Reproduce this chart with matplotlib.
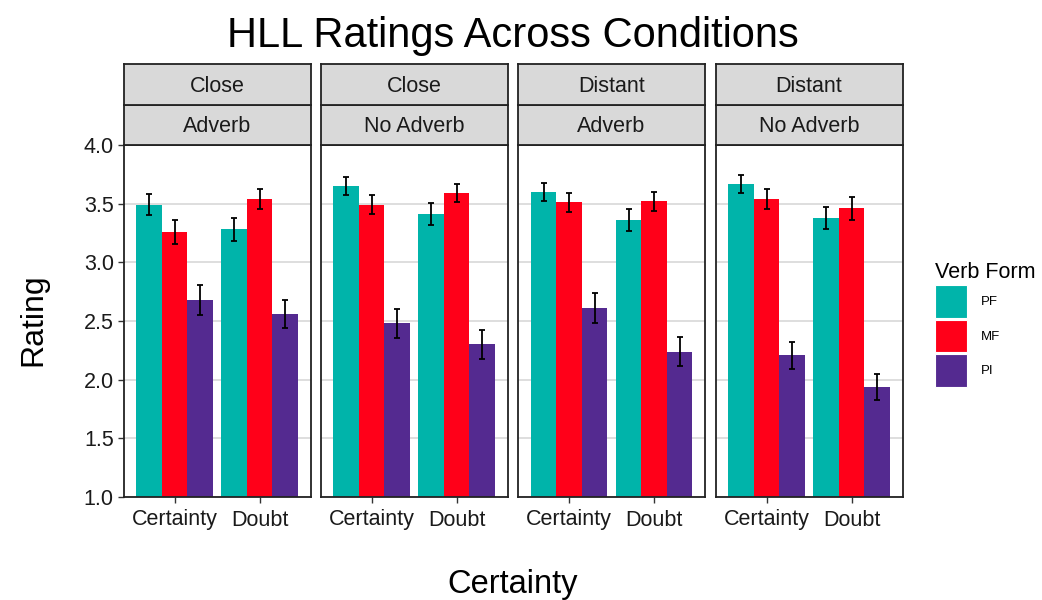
import matplotlib
matplotlib.use("Agg")
import matplotlib.pyplot as plt
import numpy as np
from matplotlib.patches import Patch

plt.rcParams["font.family"] = ["Liberation Sans", "DejaVu Sans"]

# facets (distance, adverb)
distance = ["Close", "Close", "Distant", "Distant"]
adverb = ["Adverb", "No Adverb", "Adverb", "No Adverb"]
certainty = ["Certainty", "Doubt"]
verb_forms = ["PF", "MF", "PI"]
colors = ["#00B4AA", "#FF0019", "#542A90"]

# mean rating per facet: [certainty, doubt]
pf = [[3.49, 3.28], [3.65, 3.41], [3.60, 3.36], [3.67, 3.38]]
mf = [[3.26, 3.54], [3.49, 3.59], [3.51, 3.52], [3.54, 3.46]]
pi = [[2.68, 2.56], [2.48, 2.30], [2.61, 2.24], [2.21, 1.94]]
# error bar half widths
pf_err = [[0.09, 0.10], [0.075, 0.095], [0.08, 0.095], [0.075, 0.095]]
mf_err = [[0.10, 0.085], [0.08, 0.075], [0.085, 0.08], [0.085, 0.095]]
pi_err = [[0.13, 0.12], [0.125, 0.12], [0.13, 0.125], [0.115, 0.11]]

means = [pf, mf, pi]
errs = [pf_err, mf_err, pi_err]

W, H = 1042, 600
fig = plt.figure(figsize=(W / 100, H / 100), dpi=100)


def px_axes(x0, y0, x1, y1, **kw):
    # pixel box (top-left origin) -> figure axes
    return fig.add_axes([x0 / W, 1 - y1 / H, (x1 - x0) / W, (y1 - y0) / H], **kw)


panel_left = [123.5, 320.5, 518, 715.5]
panel_w = 187
top, bottom = 145, 497
strip_h = 40.5

x = np.arange(1, len(certainty) + 1)
bw = 0.3

for k in range(4):
    x0 = panel_left[k]
    ax = px_axes(x0, top, x0 + panel_w, bottom)
    for j, vf in enumerate(verb_forms):
        vals = [means[j][k][c] for c in range(2)]
        ev = [errs[j][k][c] for c in range(2)]
        pos = x + (j - 1) * bw
        ax.bar(pos, np.array(vals) - 1, bw, bottom=1, color=colors[j], zorder=2)
        ax.errorbar(pos, vals, yerr=ev, fmt="none", ecolor="black",
                    elinewidth=1.3, capsize=2.4, capthick=1.3, zorder=3)
    ax.set_xlim(0.4, 2.6)
    ax.set_ylim(1, 4)
    ax.set_yticks(np.arange(1, 4.01, 0.5))
    ax.set_xticks(x)
    ax.set_xticklabels(certainty)
    ax.yaxis.grid(True, color="#d4d4d4", linewidth=1.1, zorder=0)
    ax.set_axisbelow(True)
    ax.tick_params(axis="both", labelsize=15.5, length=4, width=1,
                   color="#333333", labelcolor="#1a1a1a", pad=3)
    ax.tick_params(axis="x", pad=5)
    if k == 0:
        ax.set_yticklabels([f"{v:.1f}" for v in np.arange(1, 4.01, 0.5)])
    else:
        ax.tick_params(axis="y", left=False, labelleft=False)
    for s in ax.spines.values():
        s.set_linewidth(1.3)
        s.set_color("#222222")

    # two strip rows
    for r, lab in enumerate([adverb[k], distance[k]]):
        y1 = top - r * strip_h
        sax = px_axes(x0, y1 - strip_h, x0 + panel_w, y1)
        sax.set_facecolor("#d9d9d9")
        sax.set_xticks([])
        sax.set_yticks([])
        for s in sax.spines.values():
            s.set_linewidth(1.3)
            s.set_color("#222222")
        sax.text(0.5, 0.45, lab, ha="center", va="center", fontsize=15.5,
                 color="#1a1a1a", transform=sax.transAxes)

mid = (panel_left[0] + panel_left[-1] + panel_w) / 2 / W
fig.text(mid, 1 - 47 / H, "HLL Ratings Across Conditions", ha="center",
         va="baseline", fontsize=30)
fig.text(mid, 1 - 584 / H, "Certainty", ha="center", va="center", fontsize=23.5)
fig.text(33 / W, 1 - 320 / H, "Rating", ha="center", va="center",
         rotation=90, fontsize=23)

handles = [Patch(facecolor=c, edgecolor="white", linewidth=0.8) for c in colors]
leg = fig.legend(handles, verb_forms, loc="upper left",
                 bbox_to_anchor=(935 / W, 1 - 262 / H), frameon=False,
                 fontsize=9.5, title="Verb Form", title_fontsize=15.5,
                 handlelength=2.45, handleheight=3.4, handletextpad=1.0,
                 labelspacing=0.16, borderpad=0, borderaxespad=0,
                 alignment="left")

fig.savefig("out.png", dpi=100)
